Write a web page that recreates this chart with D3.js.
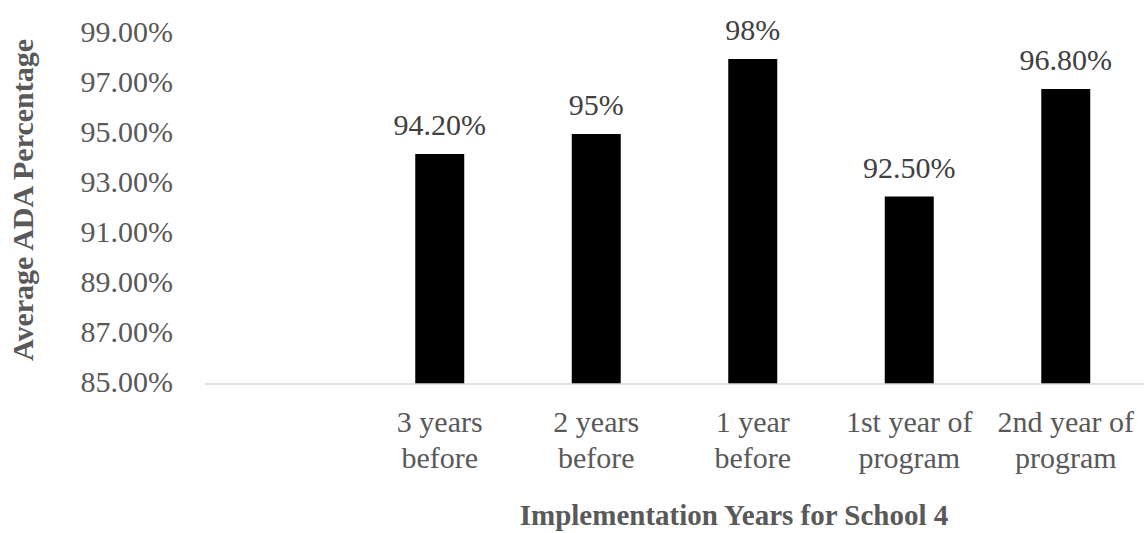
<!DOCTYPE html>
<html>
<head>
<meta charset="utf-8">
<style>
  body { margin: 0; background: #fff; }
  svg text { font-family: "Liberation Serif", "Times New Roman", serif; }
</style>
</head>
<body>
<svg width="1144" height="533"></svg>
<script src="https://d3js.org/d3.v7.min.js"></script>
<script>
  // categories (first slot is blank in the original chart)
  const categories = ["", "3 years before", "2 years before", "1 year before", "1st year of program", "2nd year of program"];
  const labelLines = [[], ["3 years", "before"], ["2 years", "before"], ["1 year", "before"], ["1st year of", "program"], ["2nd year of", "program"]];
  const values = [null, 94.2, 95, 98, 92.5, 96.8];
  const valueLabels = ["", "94.20%", "95%", "98%", "92.50%", "96.80%"];
  const yTicks = [85, 87, 89, 91, 93, 95, 97, 99];

  const svg = d3.select("svg"),
      width = +svg.attr("width"),
      height = +svg.attr("height");

  const x = d3.scaleBand()
      .domain(categories)
      .range([205, 1144])
      .paddingInner(0.687)
      .paddingOuter(0.3435);

  const y = d3.scaleLinear()
      .domain([85, 99])
      .range([384, 34]);

  // y tick labels
  svg.append("g")
      .selectAll("text")
      .data(yTicks)
      .enter().append("text")
      .attr("x", 173)
      .attr("y", d => y(d) + 8)
      .attr("text-anchor", "end")
      .attr("fill", "#595959")
      .style("font-size", "30px")
      .text(d => d.toFixed(2) + "%");

  // bars
  const data = categories.map((c, i) => ({ c, v: values[i], label: valueLabels[i], lines: labelLines[i] }));

  svg.append("g")
      .selectAll("rect")
      .data(data.filter(d => d.v != null))
      .enter().append("rect")
      .attr("x", d => x(d.c))
      .attr("y", d => y(d.v))
      .attr("width", x.bandwidth())
      .attr("height", d => y(85) - y(d.v))
      .attr("fill", "#000");

  // value labels
  svg.append("g")
      .selectAll("text")
      .data(data.filter(d => d.v != null))
      .enter().append("text")
      .attr("x", d => x(d.c) + x.bandwidth() / 2)
      .attr("y", d => y(d.v) - 19)
      .attr("text-anchor", "middle")
      .attr("fill", "#404040")
      .style("font-size", "30px")
      .text(d => d.label);

  // x axis line
  svg.append("line")
      .attr("x1", 205)
      .attr("x2", 1144)
      .attr("y1", y(85))
      .attr("y2", y(85))
      .attr("stroke", "#d9d9d9")
      .attr("stroke-width", 1.5);

  // category labels
  const cat = svg.append("g")
      .selectAll("text")
      .data(data)
      .enter().append("text")
      .attr("text-anchor", "middle")
      .attr("fill", "#595959")
      .style("font-size", "30px");

  cat.selectAll("tspan")
      .data(d => d.lines.map(l => ({ l, cx: x(d.c) + x.bandwidth() / 2 })))
      .enter().append("tspan")
      .attr("x", d => d.cx)
      .attr("y", (d, i) => 432 + i * 36)
      .text(d => d.l);

  // axis titles
  svg.append("text")
      .attr("x", 734)
      .attr("y", 525)
      .attr("text-anchor", "middle")
      .attr("fill", "#595959")
      .style("font-size", "29px")
      .style("font-weight", "bold")
      .text("Implementation Years for School 4");

  svg.append("text")
      .attr("transform", "translate(33,200) rotate(-90)")
      .attr("text-anchor", "middle")
      .attr("fill", "#595959")
      .style("font-size", "30px")
      .style("font-weight", "bold")
      .text("Average ADA Percentage");
</script>
</body>
</html>
